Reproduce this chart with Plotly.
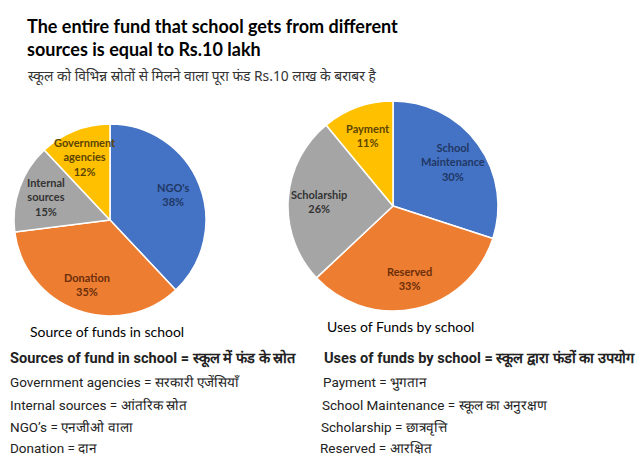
import math
import plotly.graph_objects as go

W, H = 644, 462

# Data
source_labels = ["NGO's", "Donation", "Internal sources", "Government agencies"]
source_text = ["NGO's", "Donation", "Internal<br>sources", "Government<br>agencies"]
source_values = [38, 35, 15, 12]

uses_labels = ["School Maintenance", "Reserved", "Scholarship", "Payment"]
uses_text = ["School<br>Maintenance", "Reserved", "Scholarship", "Payment"]
uses_values = [30, 33, 26, 11]

slice_colors = ["#4472C4", "#ED7D31", "#A5A5A5", "#FFC000"]
text_colors = ["#1F3864", "#6B2E0A", "#333333", "#5C4500"]

gloss_left = [
    ("Sources of fund in school = स्कूल में फंड के स्रोत", True),
    ("Government agencies = सरकारी एजेंसियाँ", False),
    ("Internal sources = आंतरिक स्रोत", False),
    ("NGO’s = एनजीओ वाला", False),
    ("Donation = दान", False),
]
gloss_right = [
    ("Uses of funds by school = स्कूल द्वारा फंडों का उपयोग", True),
    ("Payment = भुगतान", False),
    ("School Maintenance = स्कूल का अनुरक्षण", False),
    ("Scholarship = छात्रवृत्ति", False),
    ("Reserved = आरक्षित", False),
]


def px_x(x):
    return x / W


def px_y(y):
    return 1 - y / H


fig = go.Figure()
ann = []


def add_pie(labels, texts, values, box):
    x0, y0, x1, y1 = box  # pixel box (left, top, right, bottom)
    fig.add_trace(go.Pie(
        labels=labels, values=values,
        textinfo="none", sort=False, direction="clockwise", rotation=0,
        marker=dict(colors=slice_colors, line=dict(color="white", width=1.5)),
        domain=dict(x=[px_x(x0), px_x(x1)], y=[px_y(y1), px_y(y0)]),
        showlegend=False, hoverinfo="label+percent",
    ))
    # data labels positioned from the slice mid-angles
    cx, cy = (x0 + x1) / 2, (y0 + y1) / 2
    r = min(x1 - x0, y1 - y0) / 2
    total = sum(values)
    cum = 0
    for t, v, c in zip(texts, values, text_colors):
        mid = (cum + v / 2) / total * 2 * math.pi
        cum += v
        lx = cx + 0.71 * r * math.sin(mid)
        ly = cy - 0.71 * r * math.cos(mid)
        ann.append(dict(text=f"<b>{t}<br>{round(v / total * 100)}%</b>",
                        x=px_x(lx), y=px_y(ly), xanchor="center", yanchor="middle",
                        align="center",
                        font=dict(family="Lato", size=11, color=c)))


add_pie(source_labels, source_text, source_values, (14, 124, 206, 316))
add_pie(uses_labels, uses_text, uses_values, (288, 101, 498, 311))

ann.append(dict(text="<b>The entire fund that school gets from different<br>sources is equal to Rs.10 lakh</b>",
                x=px_x(25), y=px_y(13), xanchor="left", yanchor="top", align="left",
                font=dict(family="Lato", size=18, color="#000000")))
ann.append(dict(text="स्कूल को विभिन्न स्रोतों से मिलने वाला पूरा फंड Rs.10 लाख के बराबर है",
                x=px_x(26), y=px_y(76), xanchor="left", yanchor="middle", align="left",
                font=dict(family="Noto Sans", size=13.8, color="#333333")))
ann.append(dict(text="Source of funds in school", x=px_x(28), y=px_y(331),
                xanchor="left", yanchor="middle",
                font=dict(family="Lato", size=14, color="#000000")))
ann.append(dict(text="Uses of Funds by school", x=px_x(325), y=px_y(326),
                xanchor="left", yanchor="middle",
                font=dict(family="Lato", size=14, color="#000000")))

ys = [358, 382, 405, 427, 448]
lx = [8, 8, 8, 8, 8]
rx = [322, 321, 320, 319, 318]
for col, xs in ((gloss_left, lx), (gloss_right, rx)):
    for (t, b), y, x in zip(col, ys, xs):
        ann.append(dict(text=f"<b>{t}</b>" if b else t, x=px_x(x), y=px_y(y),
                        xanchor="left", yanchor="middle",
                        font=dict(family="Roboto", size=14.6 if b else 13.5,
                                  color="#222222")))

for a in ann:
    a.update(xref="paper", yref="paper", showarrow=False)

fig.update_layout(
    width=W, height=H, margin=dict(l=0, r=0, t=0, b=0),
    paper_bgcolor="white", plot_bgcolor="white",
    annotations=ann,
)

fig.write_html("out.html")
